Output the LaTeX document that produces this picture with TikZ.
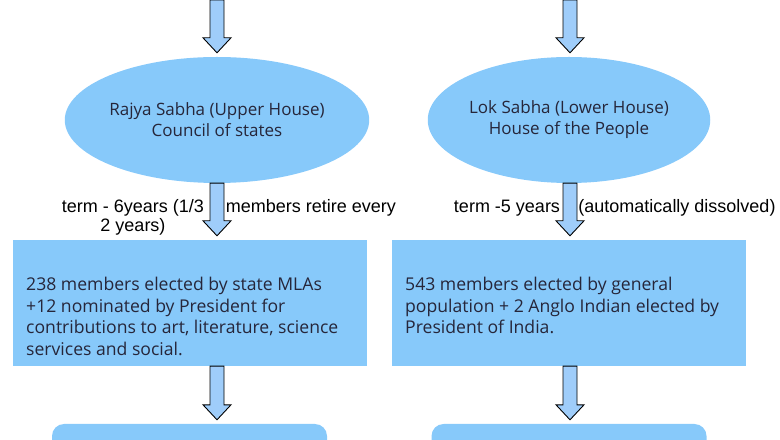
\documentclass[tikz,border=0pt]{standalone}
\usepackage{fontspec}
\setmainfont{Open Sans}
\newfontfamily\labelfont{Liberation Sans}
\usetikzlibrary{shapes.geometric,calc}
\definecolor{housefill}{HTML}{87C9FA}
\definecolor{arrowfill}{HTML}{9FCDFA}
\definecolor{textdark}{HTML}{26263A}
\newcommand{\blockdown}[2]{%
  \draw [blockarrow] ($(#1)+(-7bp,0bp)$) -- ($(#1 |- #2)+(-7bp,19bp)$) -- ($(#1 |- #2)+(-14bp,19bp)$)
    -- ($(#1 |- #2)+(0bp,4bp)$) -- ($(#1 |- #2)+(14bp,19bp)$) -- ($(#1 |- #2)+(7bp,19bp)$)
    -- ($(#1)+(7bp,0bp)$) -- cycle;}
\begin{document}
\begin{tikzpicture}[line join=miter,
    house/.style={ellipse,fill=housefill,inner sep=0pt,text=textdark,align=center,
      font=\fontsize{17bp}{21bp}\selectfont},
    housebox/.style={rectangle,fill=housefill,inner sep=0pt,minimum width=354bp,minimum height=126bp},
    nextbox/.style={rectangle,rounded corners=12bp,fill=housefill,inner sep=0pt,minimum width=275bp,minimum height=60bp},
    boxtext/.style={anchor=north west,inner sep=0pt,text=textdark,align=left,
      font=\fontsize{17.6bp}{21.5bp}\selectfont},
    termlabel/.style={inner sep=0pt,text=black,font=\labelfont\fontsize{18bp}{19bp}\selectfont},
    blockarrow/.style={draw=black,fill=arrowfill,line width=0.9bp},
  ]
        \clip (0bp,0bp) rectangle (780bp,440bp);
        %%
        \coordinate (rajyatop) at (217.0bp,440.0bp);
        \coordinate (loktop) at (570.0bp,440.0bp);
        \node (rajya) at (217.0bp,320.0bp) [house,minimum width=277bp,minimum height=126bp]
          {Rajya Sabha (Upper House)\\Council of states};
        \node (lok) at (569.0bp,320.0bp) [house,minimum width=253bp,minimum height=126bp]
          {Lok Sabha (Lower House)\\House of the People};
        \node (rajyabox) at (190.0bp,137.0bp) [housebox] {};
        \node (lokbox) at (569.0bp,137.0bp) [housebox] {};
        \node (rajyanext) at (189.5bp,-14.0bp) [nextbox] {};
        \node (loknext) at (569.0bp,-14.0bp) [nextbox] {};
        %%
        \node (rajyamembers) at (26.0bp,163.0bp) [boxtext]
          {238 members elected by state MLAs\\+12 nominated by President for\\contributions to art, literature, science\\services and social.};
        \node (lokmembers) at (405.0bp,163.0bp) [boxtext]
          {543 members elected by general\\population + 2 Anglo Indian elected by\\President of India.};
        %%
        \node (rajyaterm) at (133.0bp,222.5bp) [termlabel,align=center] {term - 6years (1/3\\2 years)};
        \node (rajyaretire) at (311.0bp,232.0bp) [termlabel] {members retire every};
        \node (lokterm) at (507.0bp,232.0bp) [termlabel] {term -5 years};
        \node (lokdissolved) at (677.0bp,232.0bp) [termlabel] {(automatically dissolved)};
        %%
        \blockdown{rajyatop}{rajya.north}
        \blockdown{loktop}{lok.north}
        \blockdown{rajyatop |- rajya.south}{rajyabox.north}
        \blockdown{loktop |- lok.south}{lokbox.north}
        \blockdown{rajyatop |- rajyabox.south}{rajyanext.north}
        \blockdown{loktop |- lokbox.south}{loknext.north}
        %
    \end{tikzpicture}
\end{document}
